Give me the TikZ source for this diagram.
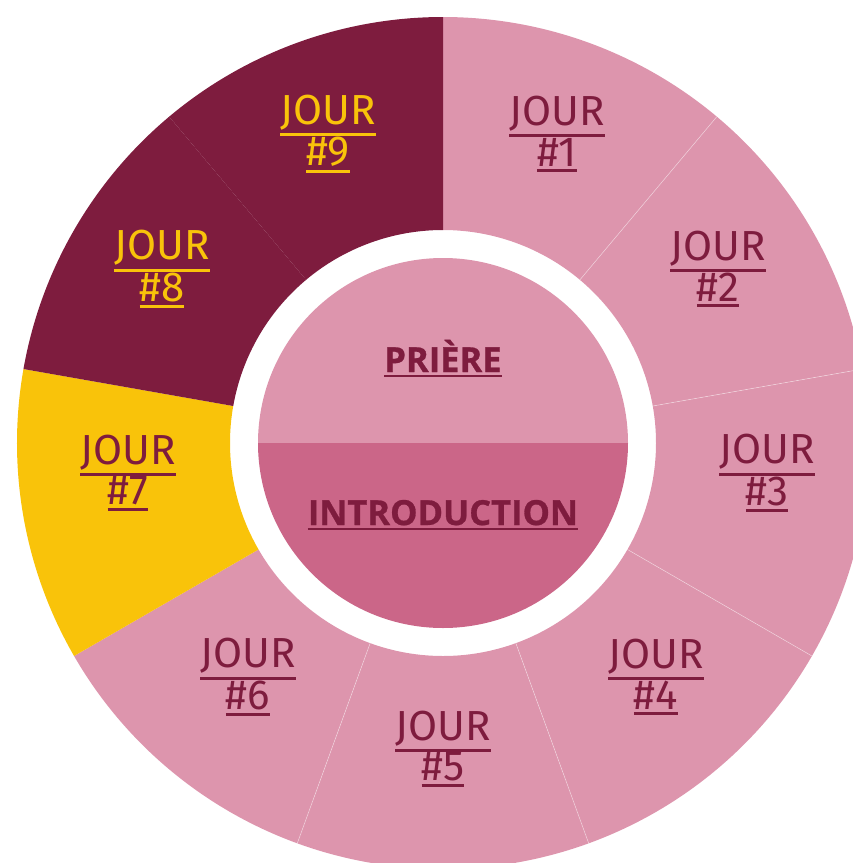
\documentclass[tikz,border=0pt]{standalone}
\usepackage{fontspec}
\setmainfont{Fira Sans}
\newfontfamily\boldlabfont[BoldFeatures={FakeBold=0.8}]{Open Sans}
\definecolor{segpink}{HTML}{DD95AD}
\definecolor{segdark}{HTML}{7E1C3E}
\definecolor{segyellow}{HTML}{F9C30A}
\definecolor{innerlow}{HTML}{CB6688}
\definecolor{txtdark}{HTML}{7E1C3E}
\newcommand\ulx[1]{\leavevmode\vtop{\hbox{#1}\kern3pt\hrule height 3pt}}
\newcommand\ulb[1]{\leavevmode\vtop{\hbox{#1}\kern2.5pt\hrule height 2.5pt}}
\tikzset{
  lab/.style={align=center, inner sep=0pt, font=\fontsize{42}{36}\selectfont},
  labp/.style={lab, text=txtdark},
  laby/.style={lab, text=segyellow},
  bold/.style={inner sep=0pt, anchor=base, text=txtdark, font=\boldlabfont\fontsize{34.5}{36}\selectfont\bfseries},
  sep/.style={draw=white, draw opacity=0.45, line width=0.6pt}
}
\begin{document}
\begin{tikzpicture}[x=1pt,y=1pt]
\useasboundingbox (0,0) rectangle (853,-863);
\clip (0,0) rectangle (853,-863);
\begin{scope}[shift={(443,-443)}]
\foreach \i/\c in {0/segpink,1/segpink,2/segpink,3/segpink,4/segpink,5/segpink,6/segyellow,7/segdark,8/segdark}{
  \pgfmathsetmacro\sa{90-40*\i}
  \pgfmathsetmacro\ea{90-40*(\i+1)}
  \fill[\c] (\sa:426) arc[start angle=\sa, end angle=\ea, radius=426] -- (\ea:213) arc[start angle=\ea, end angle=\sa, radius=213] -- cycle;
}
\foreach \a in {50,10,-30,-70,-110}{
  \draw[sep] (\a:213) -- (\a:426);
}
\fill[segpink] (185,0) arc[start angle=0, end angle=180, radius=185] -- cycle;
\fill[innerlow] (-185,0) arc[start angle=180, end angle=360, radius=185] -- cycle;
\end{scope}
\node[bold] (pri) at (443,-372) {\ulb{PRIÈRE}};
\node[bold] (intro) at (443,-525) {\ulb{INTRODUCTION}};
\node[labp] (d1) at (557,-134) {\ulx{JOUR}\\\ulx{\#1}};
\node[labp] (d2) at (718,-269) {\ulx{JOUR}\\\ulx{\#2}};
\node[labp] (d3) at (767,-473) {\ulx{JOUR}\\\ulx{\#3}};
\node[labp] (d4) at (656,-677) {\ulx{JOUR}\\\ulx{\#4}};
\node[labp] (d5) at (443,-749) {\ulx{JOUR}\\\ulx{\#5}};
\node[labp] (d6) at (248,-677) {\ulx{JOUR}\\\ulx{\#6}};
\node[labp] (d7) at (128,-473) {\ulx{JOUR}\\\ulx{\#7}};
\node[laby] (d8) at (162,-269) {\ulx{JOUR}\\\ulx{\#8}};
\node[laby] (d9) at (328,-134) {\ulx{JOUR}\\\ulx{\#9}};
\end{tikzpicture}
\end{document}
